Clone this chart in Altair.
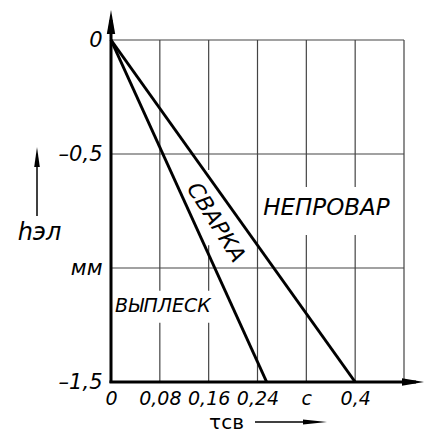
import altair as alt
import pandas as pd

# ---- data ----
x_ticks = [0, 0.08, 0.16, 0.24, 0.32, 0.40]
x_tick_labels = ["0", "0,08", "0,16", "0,24", "c", "0,4"]
y_ticks = [0, -0.5, -1.0, -1.5]
y_tick_labels = ["0", "–0,5", "мм", "–1,5"]

grid_t = [0.08, 0.16, 0.24, 0.32, 0.40, 0.48]
grid_h = [0, -0.5, -1.0]

# boundary lines: start (0,0) end at h=-1.5
boundary_id = ["A", "A", "B", "B"]
boundary_t = [0, 0.255, 0, 0.40]
boundary_h = [0, -1.5, 0, -1.5]

region_names = ["НЕПРОВАР", "СВАРКА", "ВЫПЛЕСК"]
region_t = [0.353, 0.172, 0.085]
region_h = [-0.737, -0.80, -1.167]
region_angle = [0, 58, 0]
region_size = [23, 22, 19]

# white boxes behind labels (gaps in the grid)
mask_t1 = [0.245, 0.150, 0.005]
mask_t2 = [0.472, 0.170, 0.168]
mask_h1 = [-0.645, -0.57, -1.10]
mask_h2 = [-0.855, -0.90, -1.24]

FONT = "DejaVu Sans"

xs = alt.Scale(domain=[0, 0.48], nice=False, zero=False)
ys = alt.Scale(domain=[-1.5, 0], nice=False, zero=False)

def arr(vals):
    return "[" + ",".join(repr(v) for v in vals) + "]"

def strarr(vals):
    return "[" + ",".join("'" + v + "'" for v in vals) + "]"

xaxis = alt.Axis(
    values=x_ticks,
    labelExpr=f"{strarr(x_tick_labels)}[indexof({arr(x_ticks)}, datum.value)]",
    domain=False, ticks=False, grid=False,
    labelFont=FONT, labelFontSize=19, labelFontStyle="italic", labelColor="black",
    labelPadding=7, labelFlush=False, labelOverlap=False,
    title="τсв", titleFont=FONT, titleFontSize=20, titleFontWeight="normal",
    titleColor="black", titleX=115, titleY=40, titleAlign="center", titleBaseline="middle",
)
yaxis = alt.Axis(
    values=y_ticks,
    labelExpr=f"{strarr(y_tick_labels)}[indexof({arr(y_ticks)}, datum.value)]",
    domain=False, ticks=False, grid=False,
    labelFont=FONT, labelFontSize=21, labelFontStyle="italic", labelColor="black",
    labelPadding=9, labelFlush=False, labelOverlap=False,
    title="hэл", titleFont=FONT, titleFontSize=24, titleFontWeight="normal",
    titleFontStyle="italic", titleColor="black", titleAngle=0,
    titleX=-72, titleY=192, titleAlign="center", titleBaseline="middle",
)

gv = pd.DataFrame({"t": grid_t})
gh = pd.DataFrame({"h": grid_h})
masks = pd.DataFrame({"t1": mask_t1, "t2": mask_t2, "h1": mask_h1, "h2": mask_h2})
bnd = pd.DataFrame({"id": boundary_id, "t": boundary_t, "h": boundary_h})
reg = pd.DataFrame({"name": region_names, "t": region_t, "h": region_h,
                    "angle": region_angle, "size": region_size})
one = pd.DataFrame({"a": [0]})

grid_v = alt.Chart(gv).mark_rule(color="#444", strokeWidth=1.2).encode(
    x=alt.X("t:Q", scale=xs, axis=xaxis))
grid_hz = alt.Chart(gh).mark_rule(color="#444", strokeWidth=1.2).encode(
    y=alt.Y("h:Q", scale=ys, axis=yaxis))
mask = alt.Chart(masks).mark_rect(color="white").encode(
    x=alt.X("t1:Q", scale=xs, axis=xaxis), x2="t2:Q",
    y=alt.Y("h1:Q", scale=ys, axis=yaxis), y2="h2:Q")
lines = alt.Chart(bnd).mark_line(color="black", strokeWidth=3).encode(
    x=alt.X("t:Q", scale=xs, axis=xaxis),
    y=alt.Y("h:Q", scale=ys, axis=yaxis), detail="id:N")

texts = []
for i in range(len(region_names)):
    texts.append(
        alt.Chart(reg.iloc[[i]]).mark_text(
            font=FONT, fontStyle="italic", fontSize=region_size[i],
            angle=region_angle[i], color="black", align="center", baseline="middle"
        ).encode(x=alt.X("t:Q", scale=xs, axis=xaxis),
                 y=alt.Y("h:Q", scale=ys, axis=yaxis), text="name:N"))

# axes lines with arrows (decorative)
y_axis_line = alt.Chart(one).mark_rule(color="black", strokeWidth=3).encode(
    x=alt.value(0), y=alt.value(-20), y2=alt.value(343))
x_axis_line = alt.Chart(one).mark_rule(color="black", strokeWidth=3).encode(
    x=alt.value(-1.5), x2=alt.value(305), y=alt.value(342))
arrow_shape = "M0,-1L0.35,1L-0.35,1Z"
y_arrow = alt.Chart(one).mark_point(shape=arrow_shape, filled=True, color="black",
                                    opacity=1, size=576).encode(
    x=alt.value(0), y=alt.value(-18))
x_arrow = alt.Chart(one).mark_point(shape=arrow_shape, filled=True, color="black",
                                    opacity=1, size=484, angle=90).encode(
    x=alt.value(302), y=alt.value(342))
# axis-title arrows
yt_line = alt.Chart(one).mark_rule(color="black", strokeWidth=1.5).encode(
    x=alt.value(-74), y=alt.value(120), y2=alt.value(176))
yt_arrow = alt.Chart(one).mark_point(shape="M0,-1L0.28,1L-0.28,1Z", filled=True,
                                     color="black", opacity=1, size=400).encode(
    x=alt.value(-74), y=alt.value(117))
xt_line = alt.Chart(one).mark_rule(color="black", strokeWidth=1.5).encode(
    x=alt.value(144), x2=alt.value(200), y=alt.value(40 + 342))
xt_arrow = alt.Chart(one).mark_point(shape="M0,-1L0.2,1L-0.2,1Z", filled=True,
                                     color="black", opacity=1, size=576, angle=90).encode(
    x=alt.value(204), y=alt.value(382))

chart = alt.layer(
    grid_v, grid_hz, mask, lines, *texts,
    y_axis_line, x_axis_line, y_arrow, x_arrow, yt_line, yt_arrow, xt_line, xt_arrow
).properties(
    width=293, height=342,
    autosize=alt.AutoSizeParams(type="none"),
    padding={"left": 111, "top": 40, "right": 20, "bottom": 50},
    background="white",
).configure_view(stroke=None)

chart.save("out.html", embed_options={"renderer": "svg", "actions": False})
